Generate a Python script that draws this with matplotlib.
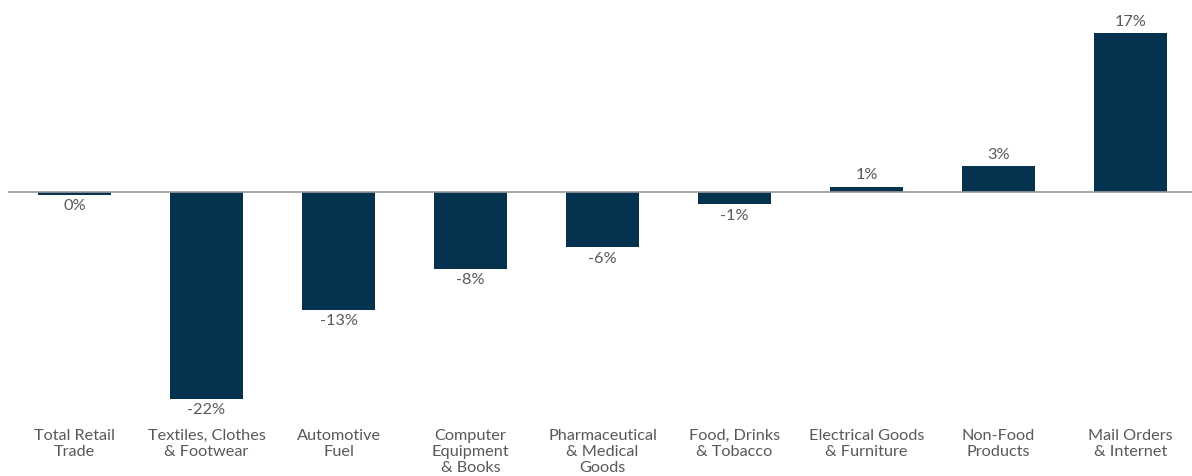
import numpy as np
import matplotlib.pyplot as plt

# ================================= Dados =================================

categorias = [
    "Total Retail\nTrade",
    "Textiles, Clothes\n& Footwear",
    "Automotive\nFuel",
    "Computer\nEquipment\n& Books",
    "Pharmaceutical\n& Medical\nGoods",
    "Food, Drinks\n& Tobacco",
    "Electrical Goods\n& Furniture",
    "Non-Food\nProducts",
    "Mail Orders\n& Internet",
]
valores = [-0.3, -22.1, -12.6, -8.2, -5.9, -1.3, 0.6, 2.8, 17.0]

cor_barra = "#04324F"
cor_texto = "#595959"

plt.rcParams["font.family"] = ["Lato", "DejaVu Sans"]

# ================================= Gráfico =================================

fig = plt.figure(figsize=(11.92, 4.76), dpi=100)
ax = fig.add_axes([8 / 1192, 1 - 420 / 476, 1 - 8 / 1192, 420 / 476])

x = np.arange(len(categorias))
ax.bar(x, valores, width=0.55, color=cor_barra, zorder=2)

ax.axhline(0, color="#9a9a9a", linewidth=1.2, zorder=3)

for xi, v in zip(x, valores):
    rotulo = f"{int(round(v))}%"
    if v >= 0:
        ax.annotate(rotulo, (xi, v), xytext=(0, 3), textcoords="offset points",
                    ha="center", va="bottom", fontsize=11.7, color=cor_texto)
    else:
        ax.annotate(rotulo, (xi, v), xytext=(0, -3), textcoords="offset points",
                    ha="center", va="top", fontsize=11.7, color=cor_texto)

ax.set_xlim(-0.504, 8.466)
ax.set_ylim(-24.33, 20.52)
ax.set_xticks(x)
ax.set_xticklabels(categorias, fontsize=11.7, color=cor_texto, linespacing=1.17)
ax.tick_params(axis="x", length=0, pad=6.5)
ax.set_yticks([])
for s in ax.spines.values():
    s.set_visible(False)

plt.savefig("out.png", dpi=100)
